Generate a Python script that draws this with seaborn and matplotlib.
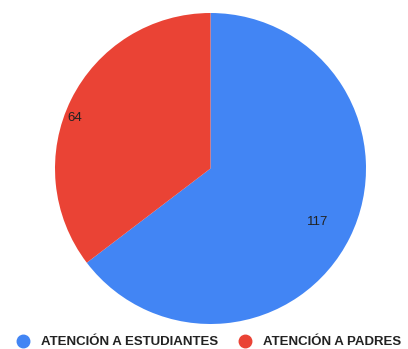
import matplotlib
matplotlib.use("Agg")
import matplotlib.pyplot as plt
import seaborn as sns
import numpy as np

# Data
categories = ["ATENCIÓN A ESTUDIANTES", "ATENCIÓN A PADRES"]
values = [117, 64]
colors = ["#4285F4", "#EA4335"]

sns.set_theme(style="white")
plt.rcParams["font.family"] = ["Liberation Sans", "DejaVu Sans"]

W, H = 408, 349
fig = plt.figure(figsize=(W / 100, H / 100), dpi=100)

# pie centre ~ (210.5, 168.5) px, radius ~155.5 px
cx, cy, r = 210.5, 168.5, 155.5
ax = fig.add_axes([(cx - r) / W, (H - cy - r) / H, 2 * r / W, 2 * r / H])

wedges, _ = ax.pie(values, colors=colors, startangle=90, counterclock=False,
                   radius=1, wedgeprops=dict(linewidth=0))
ax.set_xlim(-1, 1)
ax.set_ylim(-1, 1)
ax.set_aspect("equal")
ax.axis("off")

# value labels inside wedges
label_r = [0.77, 0.93]
label_shift = [0, 6]  # degrees
for w, v, lr, sh in zip(wedges, values, label_r, label_shift):
    ang = np.deg2rad((w.theta1 + w.theta2) / 2 + sh)
    ax.text(lr * np.cos(ang), lr * np.sin(ang), str(v), ha="center", va="center",
            fontsize=9.5, color="#222222")

handles = [plt.Line2D([], [], marker="o", linestyle="", markersize=9,
                      markerfacecolor=c, markeredgecolor=c) for c in colors]
fig.legend(handles, categories, loc="center", ncol=2, frameon=False,
           bbox_to_anchor=(0.51, 1 - 342 / H), prop=dict(weight="bold", size=9.5),
           handletextpad=0.7, handlelength=1.2, columnspacing=1.5,
           labelcolor="#222222")

fig.savefig("out.png", dpi=100)
